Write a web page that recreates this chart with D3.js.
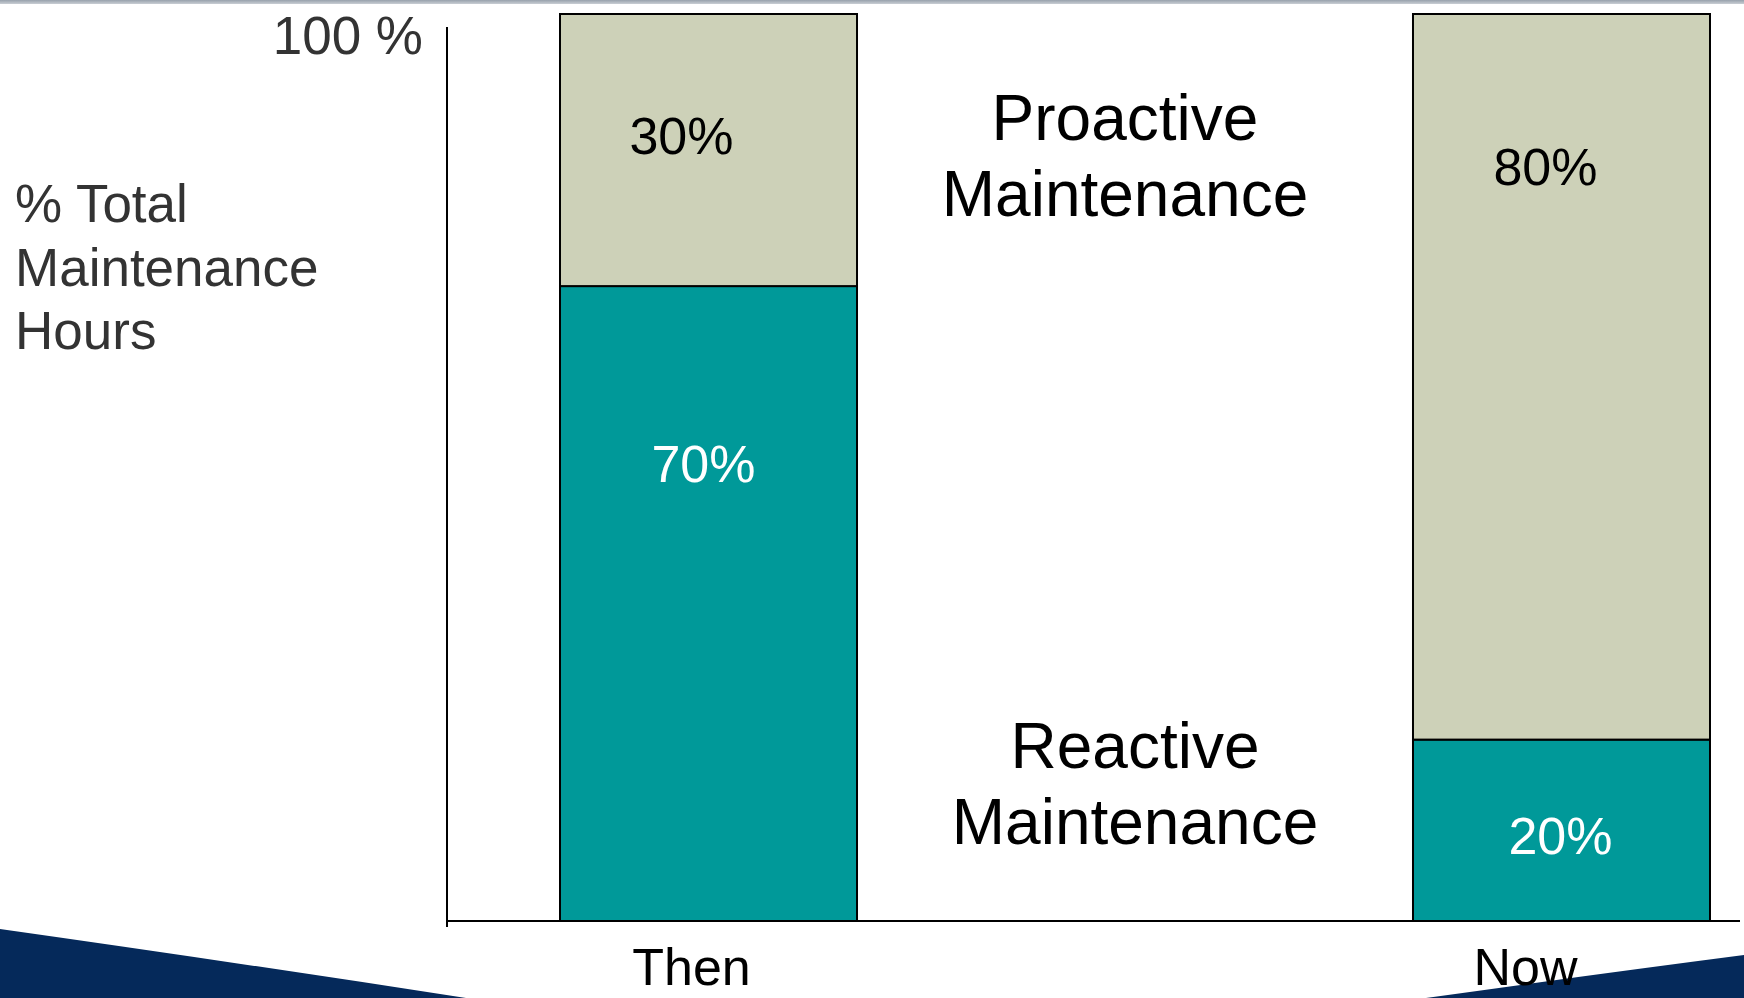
<!DOCTYPE html>
<html>
<head>
<meta charset="utf-8">
<script src="https://cdn.jsdelivr.net/npm/d3@7"></script>
<style>
  html, body { margin: 0; padding: 0; background: #fff; }
  svg { display: block; font-family: "Liberation Sans", Arial, sans-serif; }
</style>
</head>
<body>
<svg id="chart" width="1744" height="998"></svg>
<script>
// Share of total maintenance hours, then vs. now
const categories = ["Then", "Now"];
const seriesNames = ["Reactive", "Proactive"];
const reactive = [70, 20];
const proactive = [30, 80];
const yTickValues = [100];
const yTickLabels = ["100 %"];
const yTitle = ["% Total", "Maintenance", "Hours"];
const proactiveTitle = ["Proactive", "Maintenance"];
const reactiveTitle = ["Reactive", "Maintenance"];

const W = 1744, H = 998;
const svg = d3.select("#chart");

// Slide chrome: thin top rule and navy swooshes at the bottom corners
const defs = svg.append("defs");
const topGrad = defs.append("linearGradient").attr("id", "topRule")
  .attr("x1", 0).attr("y1", 0).attr("x2", 0).attr("y2", 1);
topGrad.append("stop").attr("offset", "0%").attr("stop-color", "#97a1ac");
topGrad.append("stop").attr("offset", "100%").attr("stop-color", "#c9ced4");
svg.append("rect").attr("x", 0).attr("y", 0).attr("width", W).attr("height", 4)
  .attr("fill", "url(#topRule)");

const navy = "#05295a";
svg.append("path").attr("fill", navy)
  .attr("d", "M0,929 Q240,963 466,998 L0,998 Z");
svg.append("path").attr("fill", navy)
  .attr("d", "M1426,998 Q1590,975 1744,955 L1744,998 Z");

// Scales
const baseY = 921;
const y = d3.scaleLinear().domain([0, 100]).range([baseY, 14]);
const x = d3.scaleBand().domain(categories).range([560, 1710])
  .paddingInner(0.6518).paddingOuter(0);

const colors = { Reactive: "#009999", Proactive: "#cdd1b8" };
const labelColors = { Reactive: "#ffffff", Proactive: "#000000" };

// Stack the two series per category
const rows = categories.map((c, i) => ({ cat: c, Reactive: reactive[i], Proactive: proactive[i] }));
const stacked = d3.stack().keys(seriesNames)(rows);

const g = svg.append("g");

stacked.forEach(layer => {
  g.selectAll(null).data(layer).enter().append("rect")
    .attr("x", d => x(d.data.cat))
    .attr("width", x.bandwidth())
    .attr("y", d => y(d[1]))
    .attr("height", d => y(d[0]) - y(d[1]))
    .attr("fill", colors[layer.key])
    .attr("stroke", "#000")
    .attr("stroke-width", 2);
});

// Segment value labels (hand-tuned placement inside each segment)
const segLabelNudge = {
  Then: { Reactive: [-5, 196], Proactive: [-27, 140] },
  Now: { Reactive: [-1, 114], Proactive: [-16, 171] }
};
stacked.forEach(layer => {
  g.selectAll(null).data(layer).enter().append("text")
    .attr("x", d => x(d.data.cat) + x.bandwidth() / 2 + segLabelNudge[d.data.cat][layer.key][0])
    .attr("y", d => y(d[1]) + segLabelNudge[d.data.cat][layer.key][1])
    .attr("text-anchor", "middle")
    .attr("font-size", 52)
    .attr("fill", labelColors[layer.key])
    .text(d => (d[1] - d[0]) + "%");
});

// Axes
const xAxisG = svg.append("g").attr("transform", `translate(0,${baseY})`)
  .call(d3.axisBottom(x).tickSize(0).tickPadding(0));
xAxisG.select(".domain").remove();
xAxisG.selectAll(".tick text").remove();
xAxisG.append("line").attr("x1", 447).attr("x2", 1740).attr("y1", 0).attr("y2", 0)
  .attr("stroke", "#000").attr("stroke-width", 2);

const catNudge = { Then: -17, Now: -36 };
svg.selectAll(".cat").data(categories).enter().append("text")
  .attr("x", d => x(d) + x.bandwidth() / 2 + catNudge[d])
  .attr("y", 985)
  .attr("text-anchor", "middle")
  .attr("font-size", 52)
  .attr("fill", "#000")
  .text(d => d);

const yAxisG = svg.append("g").attr("transform", "translate(447,0)")
  .call(d3.axisLeft(y).tickValues(yTickValues).tickSize(0).tickFormat((d, i) => yTickLabels[i]));
yAxisG.select(".domain").remove();
yAxisG.selectAll(".tick text")
  .attr("x", -24).attr("dy", "39px")
  .attr("font-size", 53)
  .attr("font-family", "'Liberation Sans', Arial, sans-serif")
  .attr("fill", "#333");
yAxisG.append("line").attr("x1", 0).attr("x2", 0).attr("y1", 27).attr("y2", 927)
  .attr("stroke", "#000").attr("stroke-width", 2);

// Y title
svg.append("text").attr("x", 15).attr("y", 222).attr("font-size", 53).attr("fill", "#333")
  .attr("xml:space", "preserve")
  .selectAll("tspan").data(yTitle).enter().append("tspan")
  .attr("x", 15).attr("dy", (d, i) => i === 0 ? 0 : 63.5).text(d => d);

// Series callouts
function callout(lines, cx, y0) {
  svg.append("text").attr("x", cx).attr("y", y0).attr("font-size", 64)
    .attr("text-anchor", "middle").attr("fill", "#000")
    .selectAll("tspan").data(lines).enter().append("tspan")
    .attr("x", cx).attr("dy", (d, i) => i === 0 ? 0 : 76).text(d => d);
}
callout(proactiveTitle, 1125, 140);
callout(reactiveTitle, 1135, 768);
</script>
</body>
</html>
